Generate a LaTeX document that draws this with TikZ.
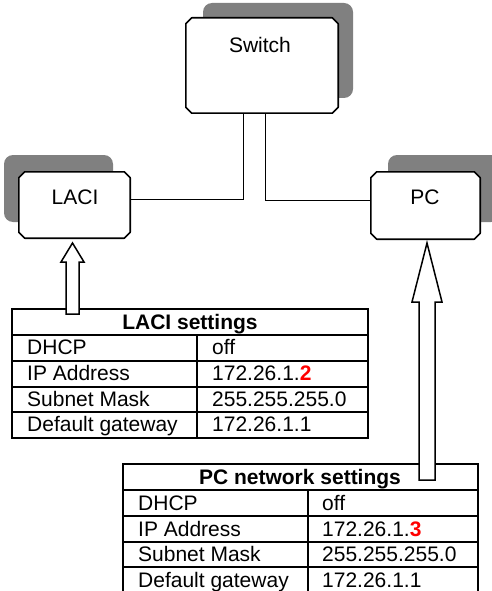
\documentclass[tikz,border=0pt]{standalone}
\usepackage{fontspec}
\setmainfont{Liberation Sans}
\definecolor{shadowgray}{HTML}{808080}
\definecolor{ipred}{HTML}{FF0000}
\newcommand\chambox[2]{%
  \draw[devline] ([xshift=#2]#1.north west) -- ([xshift=-#2]#1.north east)
    -- ([yshift=-#2]#1.north east) -- ([yshift=#2]#1.south east)
    -- ([xshift=-#2]#1.south east) -- ([xshift=#2]#1.south west)
    -- ([yshift=#2]#1.south west) -- ([yshift=-#2]#1.north west) -- cycle;}
\begin{document}
\begin{tikzpicture}[x=1pt,y=-1pt,
  devbox/.style={draw=none, inner sep=0pt, rectangle},
  devline/.style={draw, line width=1.6pt, fill=white, line join=round},
  shadowbox/.style={fill=shadowgray, rounded corners=9pt},
  txt/.style={inner sep=0pt, text height=15pt, text depth=0pt},
  devlabel/.style={txt, font=\fontsize{21}{24}\selectfont},
  link/.style={line width=1pt},
  tbl/.style={line width=1.6pt},
  cell/.style={txt, anchor=west, font=\fontsize{21}{24}\selectfont},
  hdr/.style={txt, font=\fontsize{21}{24}\selectfont\bfseries},
  hollowarrow/.style={draw, line width=1.5pt, fill=white, line join=miter}
]
\useasboundingbox (0,0) rectangle (491,591);

% shadows
\fill[shadowbox] (203,3) rectangle (353,98);
\fill[shadowbox] (4,155) rectangle (113,222);
\fill[shadowbox] (388,155) rectangle (500,222);

% device boxes
\node[devbox, minimum width=152pt, minimum height=95pt] (sw) at (262,65.5) {};
\chambox{sw}{6pt}
\node[devlabel] (swlbl) at (260,45) {Switch};
\node[devbox, minimum width=111pt, minimum height=66pt] (laci) at (74.5,205) {};
\chambox{laci}{6pt}
\node[devlabel] (lacilbl) at (75,197) {LACI};
\node[devbox, minimum width=109pt, minimum height=67pt] (pc) at (425.5,205.5) {};
\chambox{pc}{6pt}
\node[devlabel] (pclbl) at (425,197) {PC};

% connectors
\coordinate (j1) at (243,199);
\coordinate (j2) at (265,200);
\draw[link] (laci.east |- j1) -- (j1) -- (j1 |- sw.south);
\draw[link] (j2 |- sw.south) -- (j2) -- (pc.west |- j2);

% LACI table
\draw[tbl] (12,309) rectangle (368,437.7);
\foreach \y in {335,360.7,386.7,412} \draw[tbl] (12,\y) -- (368,\y);
\draw[tbl] (197,335) -- (197,437.7);
\node[hdr] (lacihdr) at (190,321.5) {LACI settings};
\node[cell] (l1a) at (27,347) {DHCP};
\node[cell] (l1b) at (212,347) {off};
\node[cell] (l2a) at (27,373) {IP Address};
\node[cell] (l2b) at (212,373) {172.26.1.{\color{ipred}\bfseries 2}};
\node[cell] (l3a) at (27,398.5) {Subnet Mask};
\node[cell] (l3b) at (212,398.5) {255.255.255.0};
\node[cell] (l4a) at (27,424) {Default gateway};
\node[cell] (l4b) at (212,424) {172.26.1.1};

% PC table
\draw[tbl] (123,464) rectangle (478,594);
\foreach \y in {490,516,542,567} \draw[tbl] (123,\y) -- (478,\y);
\draw[tbl] (308,490) -- (308,594);
\node[hdr] (pchdr) at (300,476.5) {PC network settings};
\node[cell] (p1a) at (138,502.5) {DHCP};
\node[cell] (p1b) at (322,502.5) {off};
\node[cell] (p2a) at (138,528.5) {IP Address};
\node[cell] (p2b) at (322,528.5) {172.26.1.{\color{ipred}\bfseries 3}};
\node[cell] (p3a) at (138,554) {Subnet Mask};
\node[cell] (p3b) at (322,554) {255.255.255.0};
\node[cell] (p4a) at (138,579.5) {Default gateway};
\node[cell] (p4b) at (322,579.5) {172.26.1.1};

% hollow arrows
\draw[hollowarrow] (72.5,243) -- (84,262) -- (79,262) -- (79,314) -- (66,314) -- (66,262) -- (61,262) -- cycle;
\draw[hollowarrow] (427,243) -- (442,302) -- (435,302) -- (435,480) -- (419,480) -- (419,302) -- (412,302) -- cycle;
\end{tikzpicture}
\end{document}
